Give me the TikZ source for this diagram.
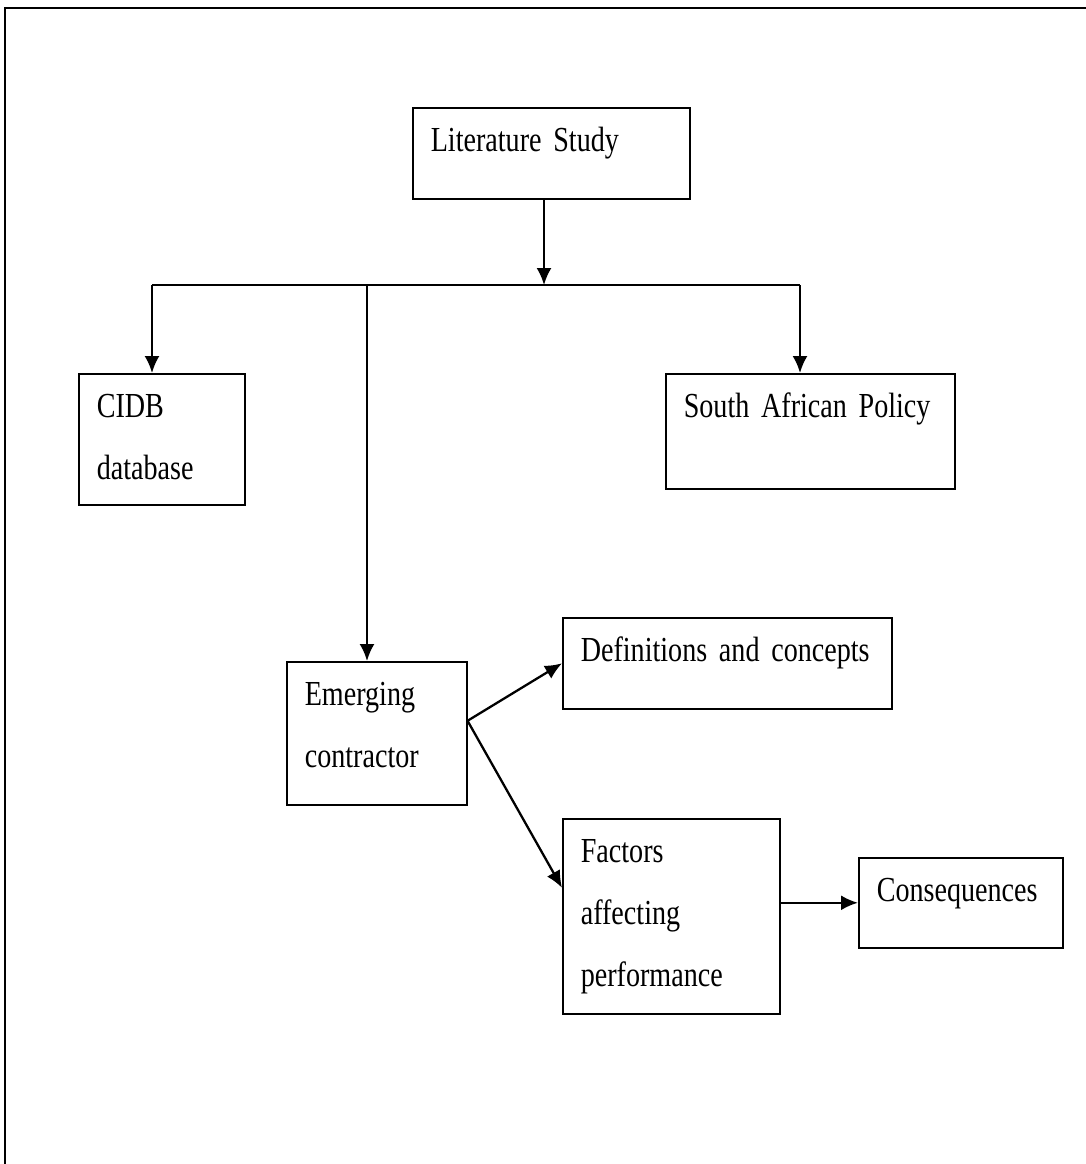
\documentclass[tikz,border=0pt]{standalone}
\usepackage{fontspec}
\setmainfont[FakeStretch=0.8]{Liberation Serif}
\usetikzlibrary{arrows.meta}
\hyphenpenalty=10000
\newcommand{\blkfont}{\fontsize{20}{35.3}\selectfont\spaceskip 3.6pt\relax}
\tikzset{
  blk/.style={draw, line width=0.9pt, anchor=north west, align=left,
    inner xsep=0.36cm, inner ysep=0.2cm, text height=0.68cm,
    font=\blkfont},
  arr/.style={-{Latex[length=0.34cm,width=0.3cm]}}
}
\begin{document}
\begin{tikzpicture}[x=0.02cm, y=-0.02cm]
      \useasboundingbox (0,0) rectangle (1086,1164);
      \draw[line width=1.2pt] (5,1164) |- (1086,8);
      \node[blk, text width=4.82cm, text depth=0.74cm] (lit) at (412,107) {Literature Study};
      \node[blk, text width=2.6cm, text depth=1.54cm] (cidb) at (78,373) {CIDB\\database};
      \node[blk, text width=5.06cm, text depth=1.22cm] (sap) at (665,373) {South African Policy};
      \node[blk, text width=2.88cm, text depth=1.78cm] (emerg) at (286,661) {Emerging\\contractor};
      \node[blk, text width=5.86cm, text depth=0.74cm] (defs) at (562,617) {Definitions~and~concepts};
      \node[blk, text width=3.62cm, text depth=2.82cm] (fact) at (562,818) {Factors\\affecting\\performance};
      \node[blk, text width=3.36cm, text depth=0.72cm] (cons) at (858,857) {Consequences};
      \coordinate (hl) at (152,285);
      \coordinate (hm) at (367,285);
      \coordinate (hc) at (544,285);
      \coordinate (hr) at (800,285);
      \begin{scope}[line width=1.3pt]
        \draw (hl) -- (hr);
        \draw[arr] (lit.south -| hc) -- (hc);
        \draw[arr] (hl) -- (cidb.north -| hl);
        \draw[arr] (hr) -- (sap.north -| hr);
        \draw[arr] (hm) -- (emerg.north -| hm);
        \draw[arr] ([yshift=0.25cm]emerg.east) -- (defs.west);
        \draw[arr] ([yshift=0.25cm]emerg.east) -- ([yshift=0.57cm]fact.west);
        \draw[arr] (fact.east |- cons.west) -- (cons.west);
      \end{scope}
    \end{tikzpicture}
\end{document}
